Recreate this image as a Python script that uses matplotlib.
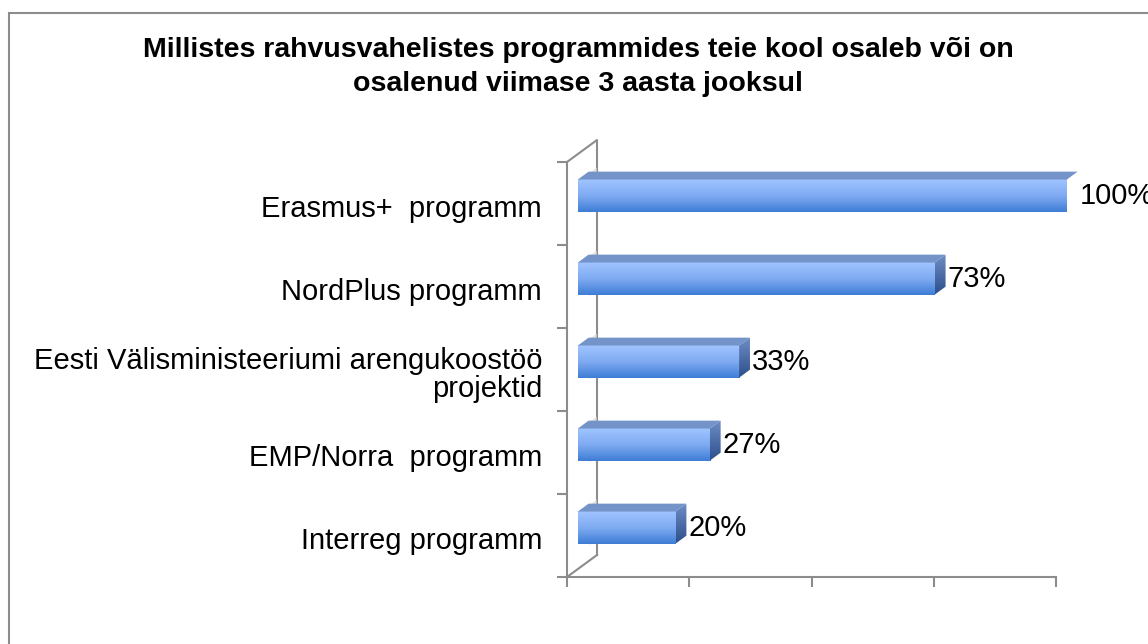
import matplotlib.pyplot as plt
import matplotlib.patches as mpatches
from matplotlib.colors import LinearSegmentedColormap
import numpy as np

plt.rcParams['font.family'] = ['Liberation Sans', 'DejaVu Sans']

# andmed
categories = ['Interreg programm', 'EMP/Norra  programm',
              'Eesti Välisministeeriumi arengukoostöö\nprojektid',
              'NordPlus programm', 'Erasmus+  programm']
values = [20, 27, 33, 73, 100]
labels = ['20%', '27%', '33%', '73%', '100%']
title = ('Millistes rahvusvahelistes programmides teie kool osaleb või on\n'
         'osalenud viimase 3 aasta jooksul')

W, H = 1148, 644
fig = plt.figure(figsize=(W / 100, H / 100), dpi=100)

# teljed = 3D graafiku esitasand
ax = fig.add_axes([567 / W, 1 - 577 / H, 489 / W, 415 / H])
ax.set_xlim(0, 100)
ax.set_ylim(0, len(categories))

# sügavus andmeühikutes
DX = 30 / 489 * 100
DY = 22 / 415 * len(categories)
grey = '#8c8c8c'

# sein ja põrand
ax.plot([0, DX, DX], [len(categories), len(categories) + DY, DY], color=grey,
        lw=1.5, clip_on=False, zorder=1)
ax.plot([0, DX], [0, DY], color=grey, lw=1.5, clip_on=False, zorder=1)

for s in ['top', 'right']:
    ax.spines[s].set_visible(False)
for s in ['left', 'bottom']:
    ax.spines[s].set_color(grey)
    ax.spines[s].set_linewidth(1.5)

ax.set_xticks([0, 25, 50, 75, 100])
ax.set_xticklabels([])
ax.set_yticks(np.arange(len(categories) + 1))
ax.set_yticklabels([])
# sildid veidi allapoole nagu originaalis
ax.set_yticks(np.arange(len(categories)) + 0.5 - 0.036, minor=True)
ax.set_yticklabels(categories, minor=True, fontsize=21, ha='right',
                   multialignment='right')
for t in ax.get_yticklabels(minor=True):
    t.set_linespacing(1.0)
ax.tick_params(axis='both', which='major', direction='out', length=7,
               width=1.5, color=grey)
ax.tick_params(axis='y', which='minor', length=0, pad=18)
ax.patch.set_visible(False)

front_cmap = LinearSegmentedColormap.from_list('f', ['#a0c4ff', '#80abf2', '#3f7ed6'])
side_cmap = LinearSegmentedColormap.from_list('s', ['#6d8cc4', '#2c4e8a'])
grad = np.linspace(0, 1, 64).reshape(-1, 1)

ox, oy = 0.36 * DX, 0.36 * DY
bx, by = 0.36 * DX, 0.36 * DY
half = 0.193

for i, (v, lab) in enumerate(zip(values, labels)):
    c = i + 0.5 + oy
    y0, y1 = c - half, c + half
    x0, x1 = ox, v + ox
    # kerge vari seinal
    sh = mpatches.Polygon([[DX - 1.6, y1 + by - 0.02], [DX, y1 + by + 0.05],
                           [DX, y0 + 0.05], [DX - 1.6, y0 - 0.02]],
                          closed=True, facecolor='#d9d9d9', edgecolor='none',
                          alpha=0.7, zorder=2, clip_on=False)
    ax.add_patch(sh)
    # esikülg
    ax.imshow(grad, cmap=front_cmap, aspect='auto', extent=[x0, x1, y0, y1],
              origin='upper', zorder=3, clip_on=False)
    # pealmine külg
    top = mpatches.Polygon([[x0, y1], [x1, y1], [x1 + bx, y1 + by], [x0 + bx, y1 + by]],
                           closed=True, facecolor='#7494c9', edgecolor='none',
                           zorder=3, clip_on=False)
    ax.add_patch(top)
    # parem külg
    side = mpatches.Polygon([[x1, y0], [x1 + bx, y0 + by], [x1 + bx, y1 + by], [x1, y1]],
                            closed=True, facecolor='none', edgecolor='none',
                            zorder=3, clip_on=False)
    ax.add_patch(side)
    im = ax.imshow(grad, cmap=side_cmap, aspect='auto',
                   extent=[x1, x1 + bx, y0, y1 + by], origin='upper', zorder=3,
                   clip_on=True)
    im.set_clip_path(side)
    ax.text(x1 + bx + 0.4, c, lab, fontsize=21, va='center', ha='left',
            zorder=4, clip_on=False)

ax.set_xlim(0, 100)
ax.set_ylim(0, len(categories))

fig.text(578 / W, 1 - 67 / H, title, ha='center', va='center', fontsize=20.5,
         fontweight='bold', linespacing=1.4)

# raam
fig.patches.append(mpatches.Rectangle((9 / W, -0.02), 1.02, 1 - 13 / H + 0.02,
                                      transform=fig.transFigure, fill=False,
                                      edgecolor=grey, lw=1.5))

fig.savefig('out.png', dpi=100)
